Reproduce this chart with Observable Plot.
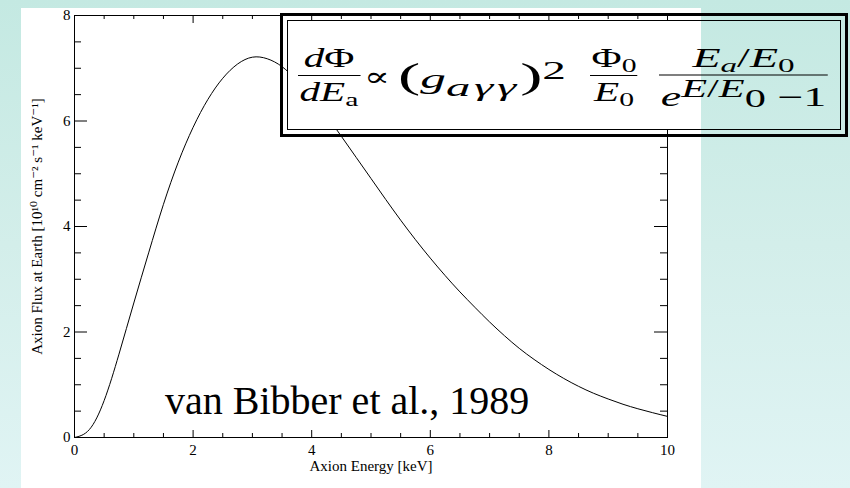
<!DOCTYPE html>
<html>
<head>
<meta charset="utf-8">
<script src="https://cdn.jsdelivr.net/npm/d3@7"></script>
<script src="https://cdn.jsdelivr.net/npm/@observablehq/plot@0.6"></script>
<style>
  html, body { margin: 0; padding: 0; }
  body { width: 850px; height: 488px; position: relative; overflow: hidden;
         background: linear-gradient(180deg, #c4e9e2 0%, #d3eeea 50%, #e0f4f4 100%);
         font-family: "Liberation Serif", "Times New Roman", "DejaVu Serif", serif; }
  #panel { position: absolute; left: 21px; top: 8px; width: 680px; height: 480px; background: #ffffff; }
  #chart { position: absolute; left: 0; top: 0; }
  #cite { position: absolute; left: 165px; top: 381px; font-size: 40px; line-height: 40px; color: #000; white-space: nowrap; }
  #eqbox { position: absolute; left: 280px; top: 13px; width: 568px; height: 124px; box-sizing: border-box; border: 3px solid #000; }
  #eqinner { position: absolute; left: 4px; top: 4px; right: 4px; bottom: 4px; border: 1.5px solid #000;
             background: linear-gradient(90deg, #ffffff 0px, #ffffff 412px, rgba(255,255,255,0) 412px); }
  .g { position: absolute; display: block; white-space: nowrap; color: #000; font-size: 27px; line-height: 0;
       transform-origin: 0 50%; }
  .g.line { line-height: 30px; }
  .frac { display: inline-flex; flex-direction: column; vertical-align: middle; text-align: center; }
  .num { display: block; border-bottom: 1.8px solid #000; padding: 0 1px 2px 1px; line-height: 30px; }
  .den { display: block; padding: 1px 1px 0 1px; line-height: 30px; }
  .den.tall { padding-top: 6px; }
  sub, sup { font-size: 72%; line-height: 0; }
  sub { vertical-align: -0.28em; }
  sup { vertical-align: 0.6em; }
  sub.big { font-size: 95%; vertical-align: -0.3em; letter-spacing: 2px; }
  sup.big { font-size: 92%; vertical-align: 0.38em; }
  sup sub { vertical-align: -0.42em; font-size: 100%; }
  .par { font-size: 130%; }
</style>
</head>
<body>
<div id="panel"></div>
<div id="chart"></div>
<div id="cite">van Bibber et al., 1989</div>
<div id="eqbox"><div id="eqinner"></div></div>
<span class="g" data-l="298" data-r="360" data-y="75"><span class="frac"><span class="num"><i>d</i>Φ</span><span class="den"><i>dE</i><sub>a</sub></span></span></span>
<span class="g line" data-l="364" data-r="390" data-y="77">∝</span>
<span class="g line" data-l="398" data-r="566" data-y="78"><span class="par">(</span><i>g</i><sub class="big"><i>aγγ</i></sub><span class="par">)</span><sup class="big">2</sup></span>
<span class="g" data-l="590" data-r="638" data-y="75"><span class="frac"><span class="num">Φ<sub>0</sub></span><span class="den"><i>E</i><sub>0</sub></span></span></span>
<span class="g" data-l="659" data-r="828" data-y="77"><span class="frac"><span class="num"><i>E</i><sub><i>a</i></sub>/<i>E</i><sub>0</sub></span><span class="den tall"><i>e</i><sup class="big"><i>E</i>/<i>E</i><sub>0</sub></sup> −1</span></span></span>
<script>
// Axion energy [keV] and flux at Earth [10^10 cm^-2 s^-1 keV^-1]
const energy = [0, 0.25, 0.5, 0.75, 1, 1.25, 1.5, 1.75, 2, 2.25, 2.5, 2.75, 3, 3.25, 3.5, 3.75, 4, 4.25, 4.5, 4.75, 5,
                5.25, 5.5, 5.75, 6, 6.25, 6.5, 6.75, 7, 7.25, 7.5, 7.75, 8, 8.25, 8.5, 8.75, 9, 9.25, 9.5, 9.75, 10];
const flux = [0, 0.15, 0.70, 1.58, 2.55, 3.50, 4.42, 5.22, 5.88, 6.41, 6.81, 7.08, 7.21, 7.18, 7.03, 6.77, 6.46, 6.10, 5.71, 5.31, 4.91,
              4.51, 4.12, 3.75, 3.40, 3.07, 2.76, 2.47, 2.19, 1.93, 1.69, 1.48, 1.29, 1.12, 0.97, 0.84, 0.73, 0.63, 0.545, 0.47, 0.40];

const xMajor = [0, 2, 4, 6, 8, 10];
const xMinor = [0.5, 1, 1.5, 2.5, 3, 3.5, 4.5, 5, 5.5, 6.5, 7, 7.5, 8.5, 9, 9.5];
const yMajor = [0, 2, 4, 6, 8];
const yMinor = [0.5, 1, 1.5, 2.5, 3, 3.5, 4.5, 5, 5.5, 6.5, 7, 7.5];
const xLabel = "Axion Energy [keV]";
const yLabel = "Axion Flux at Earth [10¹⁰ cm⁻² s⁻¹ keV⁻¹]";

const data = energy.map((e, i) => ({energy: e, flux: flux[i]}));

const W = 850, H = 488, mL = 74, mR = 183, mT = 15, mB = 51;
const fh = H - mT - mB, fw = W - mL - mR;
const serif = "'Liberation Serif', 'Times New Roman', 'DejaVu Serif', serif";

const chart = Plot.plot({
  width: W, height: H,
  marginLeft: mL, marginRight: mR, marginTop: mT, marginBottom: mB,
  style: {background: "transparent", fontFamily: serif, fontSize: "15px", color: "#000", overflow: "visible"},
  x: {domain: [0, 10]},
  y: {domain: [0, 8]},
  marks: [
    Plot.frame({stroke: "#000", strokeWidth: 1}),
    // inward ticks: bottom, top
    Plot.tickX(xMajor, {x: d => d, stroke: "#000", insetTop: fh - 7}),
    Plot.tickX(xMinor, {x: d => d, stroke: "#000", insetTop: fh - 4}),
    Plot.tickX(xMajor, {x: d => d, stroke: "#000", insetBottom: fh - 8}),
    Plot.tickX(xMinor, {x: d => d, stroke: "#000", insetBottom: fh - 4}),
    // inward ticks: left, right
    Plot.tickY(yMajor, {y: d => d, stroke: "#000", insetRight: fw - 13}),
    Plot.tickY(yMinor, {y: d => d, stroke: "#000", insetRight: fw - 7}),
    Plot.tickY(yMajor, {y: d => d, stroke: "#000", insetLeft: fw - 13}),
    Plot.tickY(yMinor, {y: d => d, stroke: "#000", insetLeft: fw - 7}),
    Plot.axisX({ticks: xMajor, tickSize: 0, tickPadding: 7, tickFormat: d => String(d), label: null, fontSize: 15, fontFamily: serif, fill: "#000"}),
    Plot.axisY({ticks: yMajor, tickSize: 0, tickPadding: 4, tickFormat: d => String(d), label: null, fontSize: 15, fontFamily: serif, fill: "#000"}),
    Plot.text([xLabel], {text: d => d, frameAnchor: "bottom", dy: 29, lineAnchor: "middle", textAnchor: "middle", fontSize: 15, fontFamily: serif, fill: "#000"}),
    Plot.text([yLabel], {text: d => d, frameAnchor: "left", dx: -37, rotate: -90, lineAnchor: "middle", textAnchor: "middle", fontSize: 15, fontFamily: serif, fill: "#000"}),
    Plot.line(data, {x: "energy", y: "flux", stroke: "#000", strokeWidth: 1, curve: "natural"})
  ]
});
document.getElementById("chart").appendChild(chart);

// stretch each equation group to its span in the original picture
document.querySelectorAll(".g").forEach(el => {
  const l = +el.dataset.l, r = +el.dataset.r;
  el.style.left = l + "px";
  el.style.top = el.dataset.y + "px";
  const w = el.getBoundingClientRect().width;
  el.style.transform = `translateY(-50%) scaleX(${(r - l) / w})`;
});
</script>
</body>
</html>
